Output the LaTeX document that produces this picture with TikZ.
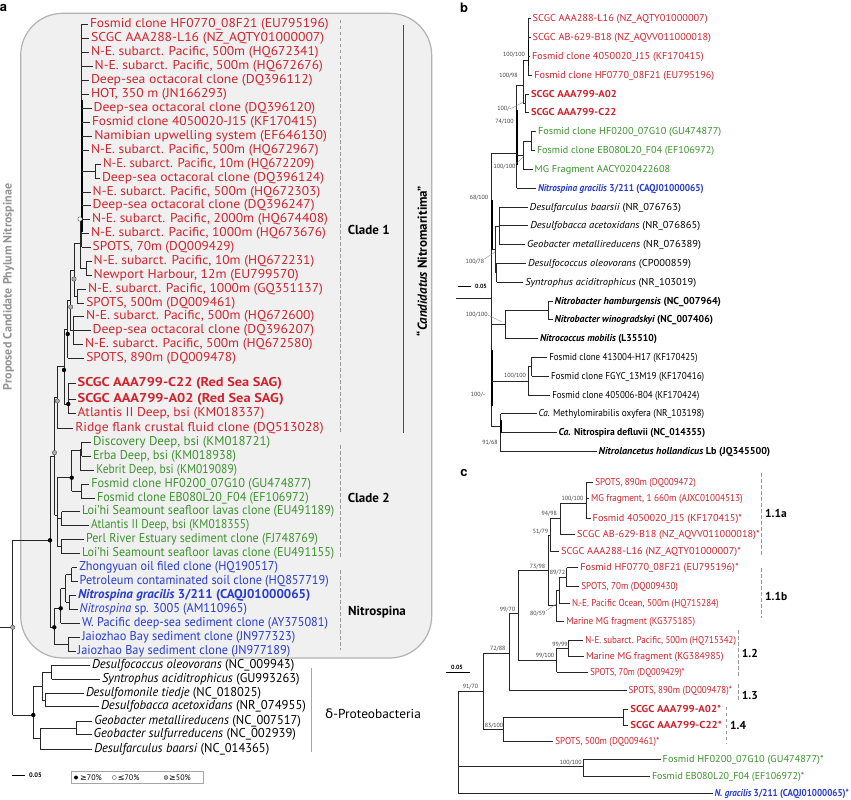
\documentclass[tikz,border=0pt]{standalone}
\usepackage{graphicx}
\usepackage{fontspec}
\setmainfont{PT Sans}
\newfontfamily\symf{DejaVu Sans}
\newfontfamily\hvf{TeX Gyre Heros}
\definecolor{cred}{RGB}{210,35,45}
\definecolor{cgreen}{RGB}{60,148,45}
\definecolor{cblue}{RGB}{40,60,210}
\newcommand{\lv}[7]{\node[#4] (#1) at (#2,#3) {\resizebox{#5pt}{\height}{#6}}; \draw[br] (#7,#3) -- (#1);}
\tikzset{
 la/.style={anchor=west, inner xsep=1.8pt, inner ysep=0pt, text height=0.7em, text depth=0.05em, font=\fontsize{12.8}{14}\selectfont},
 lb/.style={la, font=\fontsize{10}{11}\selectfont},
 cr/.style={text=cred}, cg/.style={text=cgreen}, cb/.style={text=cblue},
 br/.style={line width=0.8pt, draw=black!85},
 thk/.style={line width=1.6pt, draw=black},
 bs/.style={font=\fontsize{6}{6}\selectfont, inner sep=0pt, text=black!75},
 ldr/.style={line width=0.3pt, draw=black!50},
 bd/.style={circle, fill=black, inner sep=0pt, minimum size=4.4pt},
 gd/.style={circle, fill=gray!65, draw=black!70, line width=0.4pt, inner sep=0pt, minimum size=4.4pt},
 wd/.style={circle, fill=white, draw=black!70, line width=0.4pt, inner sep=0pt, minimum size=4.4pt},
 dsh/.style={dash pattern=on 3.5pt off 2.5pt, line width=0.9pt, draw=gray!80},
 clab/.style={anchor=west, inner sep=0pt, font=\fontsize{13}{14}\selectfont\bfseries},
 glab/.style={anchor=west, inner sep=0pt, font=\fontsize{11.5}{12}\selectfont\bfseries},
 plab/.style={inner sep=0pt, font=\fontsize{13}{14}\selectfont\hvf\bfseries},
}
\begin{document}
\begin{tikzpicture}[x=1pt,y=-1pt]
\useasboundingbox (0,0) rectangle (851,800);
\fill[white] (0,0) rectangle (851,800);
% ---------------- panel a ----------------
\node[plab] (la) at (3.5,7.5) {a};
\draw[fill=gray!12, draw=gray!60, line width=1.2pt, rounded corners=42pt] (20.7,13.3) rectangle (431.7,658);
\node[rotate=90, inner sep=0pt, text=gray!85, font=\fontsize{12}{13}\selectfont\bfseries] (phyl) at (8.5,287) {Proposed Candidate Phylum Nitrospinae};
\draw[dsh] (340,20) -- (340,432);
\draw[dsh] (340,445) -- (340,557);
\draw[dsh] (340,570) -- (340,650);
\node[clab] (cl1) at (347.7,230) {Clade 1};
\node[clab] (cl2) at (347.7,498.3) {Clade 2};
\node[clab] (cl3) at (348,612.3) {Nitrospina};
\draw[line width=0.7pt, draw=black!70] (403.3,25) -- (403.3,433);
\node[rotate=90, inner sep=0pt, font=\fontsize{13}{14}\selectfont\bfseries] (cand) at (421.7,261) {“\textit{Candidatus} Nitromaritima”};
% clade 1 lines
\draw[br] (81.7,24.3) -- (81.7,247.4);
\draw[thk] (81.7,100) -- (81.7,232);
\draw[br] (81.7,171.3) -- (95,171.3) (95,164.3) -- (95,178.3);
\draw[br] (86,261.2) -- (86,275.1) (80,268.2) -- (86,268.2) (80,219) -- (80,268.2);
\draw[br] (74,243.6) -- (74,296) (74,243.6) -- (80,243.6) (74,296) -- (77.3,296) (77.3,289) -- (77.3,302.9);
\draw[br] (73.3,316.7) -- (73.3,344.5);
\draw[br] (70.7,270) -- (70.7,330.6) (70.7,270) -- (74,270) (70.7,330.6) -- (73.3,330.6);
\draw[br] (67.7,300) -- (67.7,358.3) (67.7,300) -- (70.7,300);
\draw[br] (64,329) -- (64,404) (64,329) -- (67.7,329) (64,404) -- (68.3,404);
\draw[br] (68.3,383.5) -- (68.3,413.7);
\draw[br] (57.3,366) -- (57.3,428.3) (57.3,366) -- (64,366);
\draw[br] (54.5,397) -- (54.5,515) (54.5,397) -- (57.3,397) (54.5,515) -- (57.3,515);
% clade 2 lines
\draw[br] (81.5,442) -- (81.5,456.3) (80,449.2) -- (80,470) (80,449.2) -- (81.5,449.2) (71.7,450) -- (80,450);
\draw[br] (81,484) -- (81,498) (71.7,491) -- (81,491) (71.7,450) -- (71.7,491) (57.3,477.7) -- (71.7,477.7);
\draw[br] (61.7,511.7) -- (61.7,525.7) (57.3,518.7) -- (61.7,518.7);
\draw[br] (61,539.7) -- (61,553.7) (57.3,546.7) -- (61,546.7);
\draw[br] (57.3,477.7) -- (57.3,546.7);
\draw[br] (50,456) -- (50,627.3) (50,456) -- (54.5,456) (12.7,540.3) -- (50,540.3);
% nitrospina lines
\draw[br] (71.7,567.5) -- (71.7,581.7) (65.7,574.6) -- (71.7,574.6);
\draw[br] (69.3,595.3) -- (69.3,609.3) (65.7,602.3) -- (69.3,602.3) (65.7,574.6) -- (65.7,602.3);
\draw[br] (60.7,588.5) -- (65.7,588.5) (60.7,588.5) -- (60.7,623);
\draw[br] (68.3,637) -- (68.3,651) (54.3,644) -- (68.3,644);
\draw[br] (54.3,608.3) -- (54.3,644) (54.3,608.3) -- (60.7,608.3) (50,627.3) -- (54.3,627.3);
% root and delta
\draw[br] (12.7,540.3) -- (12.7,715) (0,627.3) -- (12.7,627.3) (12.7,715) -- (33.3,715);
\draw[br] (51.7,665.3) -- (51.7,679) (45,693.3) -- (45,706.7);
\draw[br] (42.3,672.2) -- (42.3,700) (42.3,672.2) -- (51.7,672.2) (42.3,700) -- (45,700);
\draw[br] (76.7,721) -- (76.7,734.7) (40,727.9) -- (76.7,727.9) (40,727.9) -- (40,749);
\draw[br] (33.3,686) -- (33.3,738.5) (33.3,686) -- (42.3,686) (33.3,738.5) -- (40,738.5);
\draw[line width=0.8pt, draw=gray!70] (311.7,668) -- (311.7,751.7);
\node[anchor=west, inner sep=0pt, font=\fontsize{13}{14}\selectfont] (dp) at (325,713.3) {\resizebox{95.7pt}{\height}{{\symf δ}-Proteobacteria}};
% panel a leaves
\lv{a0}{88}{24.3}{la,cr}{238.7}{Fosmid clone HF0770\_08F21 (EU795196)}{81.7}
\lv{a1}{89}{38.3}{la,cr}{233.3}{SCGC AAA288-L16 (NZ\_AQTY01000007)}{81.7}
\lv{a2}{89}{52.3}{la,cr}{227.7}{N-E. subarct. Pacific, 500m (HQ672341)}{81.7}
\lv{a3}{92.7}{66.3}{la,cr}{228.3}{N-E. subarct. Pacific, 500m (HQ672676)}{81.7}
\lv{a4}{89}{80.3}{la,cr}{221.7}{Deep-sea octacoral clone (DQ396112)}{81.7}
\lv{a5}{89}{94.3}{la,cr}{136}{HOT, 350 m (JN166293)}{81.7}
\lv{a6}{91.7}{108.3}{la,cr}{221.6}{Deep-sea octacoral clone (DQ396120)}{81.7}
\lv{a7}{90}{122.3}{la,cr}{225}{Fosmid clone 4050020-J15 (KF170415)}{81.7}
\lv{a8}{92.3}{136.3}{la,cr}{232.7}{Namibian upwelling system (EF646130)}{81.7}
\lv{a9}{89}{150.3}{la,cr}{227.7}{N-E. subarct. Pacific, 500m (HQ672967)}{81.7}
\lv{a10}{101}{164.3}{la,cr}{211.3}{N-E. subarct. Pacific, 10m (HQ672209)}{95}
\lv{a11}{100}{178.3}{la,cr}{222.3}{Deep-sea octacoral clone (DQ396124)}{95}
\lv{a12}{90.7}{192.3}{la,cr}{227.6}{N-E. subarct. Pacific, 500m (HQ672303)}{81.7}
\lv{a13}{90.7}{205.7}{la,cr}{222}{Deep-sea octacoral clone (DQ396247)}{81.7}
\lv{a14}{90}{219.6}{la,cr}{236}{N-E. subarct. Pacific, 2000m (HQ674408)}{81.7}
\lv{a15}{89}{233.5}{la,cr}{235}{N-E. subarct. Pacific, 1000m (HQ673676)}{81.7}
\lv{a16}{90.7}{247.4}{la,cr}{141.6}{SPOTS, 70m (DQ009429)}{81.7}
\lv{a17}{91.7}{261.2}{la,cr}{220.6}{N-E. subarct. Pacific, 10m (HQ672231)}{86}
\lv{a18}{91.7}{275.1}{la,cr}{205}{Newport Harbour, 12m (EU799570)}{86}
\lv{a19}{86}{289}{la,cr}{235}{N-E. subarct. Pacific, 1000m (GQ351137)}{77.3}
\lv{a20}{84.3}{302.9}{la,cr}{149}{SPOTS, 500m (DQ009461)}{77.3}
\lv{a21}{84}{316.7}{la,cr}{228.3}{N-E. subarct. Pacific, 500m (HQ672600)}{73.3}
\lv{a22}{90.7}{330.6}{la,cr}{221.6}{Deep-sea octacoral clone (DQ396207)}{73.3}
\lv{a23}{83}{344.5}{la,cr}{227.7}{N-E. subarct. Pacific, 500m (HQ672580)}{73.3}
\lv{a24}{84.3}{358.3}{la,cr}{149.7}{SPOTS, 890m (DQ009478)}{67.7}
\lv{a25}{75.7}{383.5}{la,cr}{204.3}{\bfseries SCGC AAA799-C22 (Red Sea SAG)}{68.3}
\lv{a26}{75.7}{399.5}{la,cr}{206}{\bfseries SCGC AAA799-A02 (Red Sea SAG)}{68.3}
\lv{a27}{75.7}{413.7}{la,cr}{186.6}{Atlantis II Deep, bsi (KM018337)}{68.3}
\lv{a28}{73.3}{428.3}{la,cr}{248.4}{Ridge flank crustal fluid clone (DQ513028)}{57.3}
\lv{a29}{91}{442}{la,cg}{177.3}{Discovery Deep, bsi (KM018721)}{81.5}
\lv{a30}{91}{456.3}{la,cg}{143}{Erba Deep, bsi (KM018938)}{81.5}
\lv{a31}{94.3}{470}{la,cg}{140.7}{Kebrit Deep, bsi (KM019089)}{80}
\lv{a32}{89.3}{484}{la,cg}{219.7}{Fosmid clone HF0200\_07G10 (GU474877)}{81}
\lv{a33}{95}{498}{la,cg}{211.7}{Fosmid clone EB080L20\_F04 (EF106972)}{81}
\lv{a34}{80}{511.7}{la,cg}{252.3}{Loi’hi Seamount seafloor lavas clone (EU491189)}{61.7}
\lv{a35}{89}{525.7}{la,cg}{158.3}{Atlantis II Deep, bsi (KM018355)}{61.7}
\lv{a36}{84}{539.7}{la,cg}{232}{Perl River Estuary sediment clone (FJ748769)}{61}
\lv{a37}{80}{553.7}{la,cg}{252.3}{Loi’hi Seamount seafloor lavas clone (EU491155)}{61}
\lv{a38}{77.3}{567.5}{la,cb}{198.7}{Zhongyuan oil filed clone (HQ190517)}{71.7}
\lv{a39}{77.7}{581.7}{la,cb}{249}{Petroleum contaminated soil clone (HQ857719)}{71.7}
\lv{a40}{76}{595.3}{la,cb}{232.3}{\bfseries\itshape Nitrospina gracilis\upshape{} 3/211 (CAQJ01000065)}{69.3}
\lv{a41}{77.7}{609.3}{la,cb}{167.3}{\textit{Nitrospina} sp. 3005 (AM110965)}{69.3}
\lv{a42}{80}{623}{la,cb}{246}{W. Pacific deep-sea sediment clone (AY375081)}{60.7}
\lv{a43}{80}{637}{la,cb}{213.3}{Jaiozhao Bay sediment clone (JN977323)}{68.3}
\lv{a44}{75.7}{651}{la,cb}{212.6}{Jaiozhao Bay sediment clone (JN977189)}{68.3}
\lv{a45}{90}{665.3}{la}{202.3}{\textit{Desulfococcus oleovorans} (NC\_009943)}{51.7}
\lv{a46}{100}{679}{la}{197.7}{\textit{Syntrophus aciditrophicus} (GU993263)}{51.7}
\lv{a47}{84}{693.3}{la}{175}{\textit{Desulfomonile tiedje} (NC\_018025)}{45}
\lv{a48}{99}{706.7}{la}{205}{\textit{Desulfobacca acetoxidans} (NR\_074955)}{45}
\lv{a49}{92.3}{721}{la}{206.7}{\textit{Geobacter metallireducens} (NC\_007517)}{76.7}
\lv{a50}{91.7}{734.7}{la}{202.3}{\textit{Geobacter sulfurreducens} (NC\_002939)}{76.7}
\lv{a51}{92.3}{749}{la}{175}{\textit{Desulfarculus baarsi} (NC\_014365)}{40}
% panel a node markers
\node[wd] (m1) at (80,219) {};
\node[gd] (m2) at (74,279) {};
\node[gd] (m3) at (70.7,307) {};
\node[bd] (m4) at (67.7,334) {};
\node[bd] (m5) at (64,370) {};
\node[bd] (m6) at (68.3,404) {};
\node[gd] (m7) at (57.3,401) {};
\node[gd] (m8) at (54.5,452.7) {};
\node[bd] (m9) at (71.7,477.7) {};
\node[bd] (m10) at (50,540.3) {};
\node[bd] (m11) at (60.7,608.3) {};
\node[bd] (m12) at (54.3,627.3) {};
\node[gd] (m13) at (12.7,627.3) {};
\node[bd] (m14) at (33.3,715) {};
% scale + legend a
\draw[line width=1pt] (12,775.7) -- (25,775.7);
\node[anchor=west, inner sep=0pt, font=\fontsize{6.5}{7}\selectfont\bfseries] (sa) at (29,775.7) {0.05};
\draw[draw=gray!70, line width=0.6pt] (71.7,771.7) rectangle (203.3,783.3);
\node[bd, minimum size=4pt] (lg1) at (76,777.5) {};
\node[anchor=west, inner sep=0pt, font=\fontsize{8}{9}\selectfont] (lt1) at (80,777.5) {{\symf ≥}70\%};
\node[wd, minimum size=4pt] (lg2) at (114.3,777.5) {};
\node[anchor=west, inner sep=0pt, font=\fontsize{8}{9}\selectfont] (lt2) at (117.7,777.5) {{\symf ≤}70\%};
\node[gd, minimum size=4pt] (lg3) at (166,777.5) {};
\node[anchor=west, inner sep=0pt, font=\fontsize{8}{9}\selectfont] (lt3) at (169,777.5) {{\symf ≥}50\%};
% ---------------- panel b ----------------
\node[plab] (lbb) at (464,8) {b};
\draw[br] (528.3,18.3) -- (528.3,75.3);
\draw[thk] (528.3,40) -- (528.3,66);
\draw[br] (525,94) -- (525,112.7);
\draw[br] (523.3,60) -- (523.3,103.3) (523.3,60) -- (528.3,60) (523.3,103.3) -- (525,103.3);
\draw[br] (516.7,85) -- (516.7,188.3) (516.7,85) -- (523.3,85);
\draw[thk] (516.7,110) -- (516.7,165);
\draw[br] (531,131.7) -- (531,150.3) (523.3,141) -- (531,141) (523.3,141) -- (523.3,169.3) (516.7,155) -- (523.3,155);
\draw[br] (491.7,153.3) -- (491.7,426.7) (491.7,153.3) -- (516.7,153.3);
\draw[thk] (491.7,200) -- (491.7,250);
\draw[thk] (491.7,350) -- (491.7,406);
\draw[br] (499,207.3) -- (499,244.3) (496.7,263.3) -- (496.7,282);
\draw[br] (495,226) -- (495,272.7) (495,226) -- (499,226) (495,272.7) -- (496.7,272.7) (491.7,249) -- (495,249);
\draw[br] (548.3,301) -- (548.3,319.7) (505,310.3) -- (548.3,310.3) (505,310.3) -- (505,338.3) (491.7,324.3) -- (505,324.3);
\draw[br] (531.7,357.3) -- (531.7,376) (528.3,366.7) -- (531.7,366.7) (528.3,366.7) -- (528.3,395) (491.7,381) -- (528.3,381);
\draw[br] (500.7,413.7) -- (500.7,451.7) (491.7,426.7) -- (500.7,426.7);
\draw[thk] (500.7,420) -- (500.7,433);
\draw[br] (456,298.3) -- (491.7,298.3);
\draw[line width=1.2pt] (458,286.7) -- (471,286.7);
\node[anchor=west, inner sep=0pt, font=\fontsize{6}{7}\selectfont\bfseries] (sb) at (475,286.7) {0.05};
\lv{b1}{530.7}{18.3}{lb,cr}{175}{SCGC AAA288-L16 (NZ\_AQTY01000007)}{528.3}
\lv{b2}{530.7}{37.3}{lb,cr}{178.3}{SCGC AB-629-B18 (NZ\_AQVV011000018)}{528.3}
\lv{b3}{530}{56.3}{lb,cr}{171.7}{Fosmid clone 4050020\_J15 (KF170415)}{528.3}
\lv{b4}{532.3}{75.3}{lb,cr}{180}{Fosmid clone HF0770\_08F21 (EU795196)}{528.3}
\lv{b5}{529}{94}{lb,cr}{86}{\bfseries SCGC AAA799-A02}{525}
\lv{b6}{529}{112.7}{lb,cr}{85.3}{\bfseries SCGC AAA799-C22}{525}
\lv{b7}{536}{131.7}{lb,cg}{183.3}{Fosmid clone HF0200\_07G10 (GU474877)}{531}
\lv{b8}{535}{150.3}{lb,cg}{177.3}{Fosmid clone EB080L20\_F04 (EF106972)}{531}
\lv{b9}{532.7}{169.3}{lb,cg}{135.6}{MG Fragment AACY020422608}{523.3}
\lv{b10}{536}{188.3}{lb,cb}{165.7}{\bfseries\itshape Nitrospina gracilis\upshape{} 3/211 (CAQJ01000065)}{516.7}
\lv{b11}{527.7}{207.3}{lb}{151.3}{\textit{Desulfarculus baarsii} (NR\_076763)}{499}
\lv{b12}{528.3}{225.7}{lb}{170}{\textit{Desulfobacca acetoxidans} (NR\_076865)}{499}
\lv{b13}{525}{244.3}{lb}{174}{\textit{Geobacter metallireducens} (NR\_076389)}{499}
\lv{b14}{526}{263.3}{lb}{163}{\textit{Desulfococcus oleovorans} (CP000859)}{496.7}
\lv{b15}{523.3}{282}{lb}{171}{\textit{Syntrophus aciditrophicus} (NR\_103019)}{496.7}
\lv{b16}{552.7}{301}{lb}{166.3}{\bfseries\itshape Nitrobacter hamburgensis\upshape{} (NC\_007964)}{548.3}
\lv{b17}{552.7}{319.7}{lb}{158.3}{\bfseries\itshape Nitrobacter winogradskyi\upshape{} (NC\_007406)}{548.3}
\lv{b18}{538}{338.3}{lb}{117}{\bfseries\itshape Nitrococcus mobilis\upshape{} (L35510)}{505}
\lv{b19}{547.3}{357.3}{lb}{148.4}{Fosmid clone 413004-H17 (KF170425)}{531.7}
\lv{b20}{549}{376}{lb}{153.3}{Fosmid clone FGYC\_13M19 (KF170416)}{531.7}
\lv{b21}{550.3}{395}{lb}{147}{Fosmid clone 405006-B04 (KF170424)}{528.3}
\lv{b22}{536.7}{413.7}{lb}{165.6}{\textit{Ca.} Methylomirabilis oxyfera (NR\_103198)}{500.7}
\lv{b23}{556.7}{432.3}{lb}{146.6}{\bfseries\textit{Ca.} Nitrospira defluvii (NC\_014355)}{500.7}
\lv{b24}{596.7}{451.7}{lb}{171.6}{\bfseries\itshape Nitrolancetus hollandicus\upshape{} Lb (JQ345500)}{500.7}
\node[bs] (t1) at (514,54.3) {100/100};
\node[bs] (t2) at (508.5,76) {100/98};
\node[bs] (t3) at (504.5,108.3) {100/-};
\draw[ldr] (t3.east) -- (523.3,102);
\node[bs] (t4) at (504.5,121.7) {74/100};
\node[bs] (t5) at (504.5,166.7) {100/100};
\draw[ldr] (t5.north east) -- (523.3,157);
\node[bs] (t6) at (479,197.3) {68/100};
\node[bs] (t7) at (475,261.7) {100/78};
\draw[ldr] (t7.north east) -- (495,252);
\node[bs] (t8) at (476.7,315) {100/100};
\draw[ldr] (t8.east) -- (501.7,321.7);
\node[bs] (t9) at (515,376) {100/100};
\node[bs] (t10) at (478,395) {100/-};
\node[bs] (t11) at (490,442.3) {91/68};
% ---------------- panel c ----------------
\node[plab] (lcc) at (464,473.3) {c};
\draw[br] (586,482.3) -- (586,518.3) (560,503.3) -- (586,503.3) (560,503.3) -- (560,534.3);
\draw[br] (550,518.3) -- (560,518.3) (550,518.3) -- (550,551) (548.3,535) -- (550,535);
\draw[br] (566.7,567.7) -- (566.7,586.7) (559,577.2) -- (566.7,577.2) (559,577.2) -- (559,603.3);
\draw[br] (556,590) -- (559,590) (556,590) -- (556,621.7);
\draw[br] (548.3,535) -- (548.3,605.8) (548.3,605.8) -- (556,605.8) (518.3,570) -- (548.3,570);
\draw[br] (568.3,640) -- (568.3,656.7) (556.7,648.3) -- (568.3,648.3) (556.7,648.3) -- (556.7,672.3) (518.3,660) -- (556.7,660);
\draw[br] (518.3,570) -- (518.3,660) (509.3,613.3) -- (518.3,613.3) (509.3,613.3) -- (509.3,690.7);
\draw[br] (483.3,653.3) -- (509.3,653.3);
\draw[br] (623.3,709.3) -- (623.3,725) (503.3,717.7) -- (623.3,717.7) (503.3,717.7) -- (503.3,741) (483.3,729.3) -- (503.3,729.3);
\draw[br] (483.3,653.3) -- (483.3,729.3) (458,691.7) -- (483.3,691.7);
\draw[br] (583.3,759) -- (583.3,776) (458,766.7) -- (583.3,766.7);
\draw[br] (458,691.7) -- (458,793.3);
\lv{c1}{593.3}{482.3}{lb,cr}{100.7}{SPOTS, 890m (DQ009472)}{586}
\lv{c2}{589}{498.3}{lb,cr}{151.7}{MG fragment, 1 660m (AJXC01004513)}{586}
\lv{c3}{590.7}{518.3}{lb,cr}{149.3}{Fosmid 4050020\_J15 (KF170415)*}{586}
\lv{c4}{575}{534.3}{lb,cr}{182.7}{SCGC AB-629-B18 (NZ\_AQVV011000018)*}{560}
\lv{c5}{559}{551}{lb,cr}{180}{SCGC AAA288-L16 (NZ\_AQTY01000007)*}{550}
\lv{c6}{578.3}{567.7}{lb,cr}{158.4}{Fosmid HF0770\_08F21 (EU795196)*}{566.7}
\lv{c7}{579.3}{586.7}{lb,cr}{96.7}{SPOTS, 70m (DQ009430)}{566.7}
\lv{c8}{570}{603.3}{lb,cr}{146.7}{N.-E. Pacific Ocean, 500m (HQ715284)}{559}
\lv{c9}{564.3}{621.7}{lb,cr}{129}{Marine MG fragment (KG375185)}{556}
\lv{c10}{583.3}{640}{lb,cr}{150.7}{N-E. subarct. Pacific, 500m (HQ715342)}{568.3}
\lv{c11}{584}{656.7}{lb,cr}{137.7}{Marine MG fragment (KG384985)}{568.3}
\lv{c12}{588.3}{672.3}{lb,cr}{94.4}{SPOTS, 70m (DQ009429)*}{556.7}
\lv{c13}{626.7}{690.7}{lb,cr}{103.3}{SPOTS, 890m (DQ009478)*}{509.3}
\lv{c14}{628.3}{709.3}{lb,cr}{91}{\bfseries SCGC AAA799-A02*}{623.3}
\lv{c15}{628.3}{725}{lb,cr}{91.7}{\bfseries SCGC AAA799-C22*}{623.3}
\lv{c16}{553.3}{741}{lb,cr}{104}{SPOTS, 500m (DQ009461)*}{503.3}
\lv{c17}{660.7}{759}{lb,cg}{161}{Fosmid HF0200\_07G10 (GU474877)*}{583.3}
\lv{c18}{650}{776}{lb,cg}{152.3}{Fosmid EB080L20\_F04 (EF106972)*}{583.3}
\lv{c19}{712.5}{793.3}{lb,cb}{134.5}{\bfseries\itshape N. gracilis\upshape{} 3/211 (CAQJ01000065)*}{458}
\node[bs] (u1) at (572.5,498.5) {100/100};
\node[bs] (u2) at (549.2,514) {94/98};
\node[bs] (u3) at (540.5,531.7) {51/79};
\node[bs] (u4) at (537.5,566.5) {73/98};
\node[bs] (u5) at (557.5,572.7) {89/72};
\node[bs] (u6) at (537.8,614) {80/59};
\draw[ldr] (u6.north east) -- (556,604);
\node[bs] (u7) at (507.5,609.5) {99/70};
\node[bs] (u8) at (560,645) {99/99};
\node[bs] (u9) at (545,655.5) {99/100};
\node[bs] (u10) at (497.8,649) {72/88};
\node[bs] (u11) at (470.5,687) {91/70};
\node[bs] (u12) at (494,726) {83/100};
\node[bs] (u13) at (570.8,762.7) {100/100};
\node[anchor=east, inner sep=0pt, font=\fontsize{6}{7}\selectfont\bfseries] (sc) at (463,667) {0.05};
\draw[line width=1pt] (446,672.7) -- (470,672.7);
\draw[dsh] (761.7,473) -- (761.7,555);
\draw[dsh] (761.7,568) -- (761.7,618);
\draw[dsh] (738.3,630) -- (738.3,678);
\draw[dsh] (738.3,684) -- (738.3,702);
\draw[dsh] (726.7,706.7) -- (726.7,743.3);
\node[glab] (g1) at (765,513.3) {1.1a};
\node[glab] (g2) at (765,596) {1.1b};
\node[glab] (g3) at (741.7,653.3) {1.2};
\node[glab] (g4) at (741.7,695) {1.3};
\node[glab] (g5) at (730,725) {1.4};
\end{tikzpicture}
\end{document}
